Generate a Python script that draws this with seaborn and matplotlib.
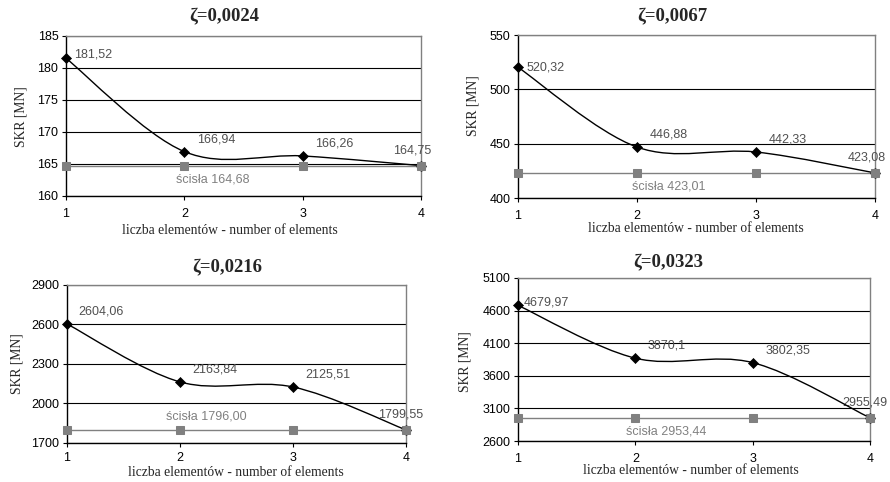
import numpy as np
import pandas as pd
import matplotlib
matplotlib.use("Agg")
import matplotlib.pyplot as plt
from matplotlib.path import Path
from matplotlib.patches import PathPatch
import seaborn as sns

# ---------------- data ----------------
elements = [1, 2, 3, 4]
titles = ["ζ=0,0024", "ζ=0,0067", "ζ=0,0216", "ζ=0,0323"]
fem_1 = [181.52, 166.94, 166.26, 164.75]
fem_2 = [520.32, 446.88, 442.33, 423.08]
fem_3 = [2604.06, 2163.84, 2125.51, 1799.55]
fem_4 = [4679.97, 3870.1, 3802.35, 2955.49]
fem_labels_1 = ["181,52", "166,94", "166,26", "164,75"]
fem_labels_2 = ["520,32", "446,88", "442,33", "423,08"]
fem_labels_3 = ["2604,06", "2163,84", "2125,51", "1799,55"]
fem_labels_4 = ["4679,97", "3870,1", "3802,35", "2955,49"]
exact = [164.68, 423.01, 1796.00, 2953.44]
exact_labels = ["ścisła 164,68", "ścisła 423,01", "ścisła 1796,00", "ścisła 2953,44"]
y_limits = [(160, 185), (400, 550), (1700, 2900), (2600, 5100)]
y_steps = [5, 50, 300, 500]
x_label = "liczba elementów - number of elements"
y_label = "SKR [MN]"

fems = [fem_1, fem_2, fem_3, fem_4]
fem_labels = [fem_labels_1, fem_labels_2, fem_labels_3, fem_labels_4]

# ---------------- layout / style ----------------
W, H = 890, 482
sns.set_theme(style="white")
plt.rcParams["font.family"] = ["Liberation Sans", "DejaVu Sans"]

fig = plt.figure(figsize=(W / 100, H / 100), dpi=100)

# axes boxes in pixels: left, top, right, bottom
boxes = [(66, 36, 421, 196), (518, 35, 875, 198), (67, 285, 406, 443), (518, 278, 870, 441)]
title_pos = [(224, 17), (672, 17), (227, 268), (668, 263)]
xlab_pos = [(230, 230), (696, 228), (236, 473), (691, 470)]
ylab_pos = [(21, 117), (473, 106), (17, 364), (465, 362)]
x_pads = [5.5, 5.5, 3.5, 5.5]
# label offsets in points for fem points (dx, dy)
fem_offsets = [
    [(6, 3), (9, 9), (9, 9), (-20, 11)],
    [(6, 0), (9, 9), (9, 9), (-20, 11)],
    [(8, 9), (9, 9), (9, 9), (-20, 11)],
    [(4, 2), (9, 9), (9, 9), (-20, 11)],
]
exact_offsets = [(-22, -10), (-20, -10), (-22, 10), (-20, -10)]

gray_text = "#505050"
gray_series = "#808080"
serif = ["Liberation Serif", "DejaVu Serif"]


def smooth_path(xs, ys):
    # Excel-style smoothed line (Catmull-Rom Bezier) through the data points
    xs = np.asarray(xs, float)
    ys = np.asarray(ys, float)
    n = len(xs)
    verts = [(xs[0], ys[0])]
    codes = [Path.MOVETO]
    for i in range(n - 1):
        p0 = (xs[i - 1], ys[i - 1]) if i > 0 else (xs[i], ys[i])
        p1 = (xs[i], ys[i])
        p2 = (xs[i + 1], ys[i + 1])
        p3 = (xs[i + 2], ys[i + 2]) if i + 2 < n else (xs[i + 1], ys[i + 1])
        c1 = (p1[0] + (p2[0] - p0[0]) / 6, p1[1] + (p2[1] - p0[1]) / 6)
        c2 = (p2[0] - (p3[0] - p1[0]) / 6, p2[1] - (p3[1] - p1[1]) / 6)
        verts += [c1, c2, p2]
        codes += [Path.CURVE4] * 3
    return Path(verts, codes)


for k in range(4):
    l, t, r, b = boxes[k]
    ax = fig.add_axes([l / W, 1 - b / H, (r - l) / W, (b - t) / H])
    ax.set_facecolor("white")
    lo, hi = y_limits[k]
    ax.set_ylim(lo, hi)
    ax.set_xlim(1, 4)
    ax.set_yticks(np.arange(lo, hi + 1e-9, y_steps[k]))
    ax.set_xticks(elements)
    ax.yaxis.grid(True, color="black", linewidth=0.8)
    ax.xaxis.grid(False)
    ax.set_axisbelow(True)
    for s in ["left", "bottom"]:
        ax.spines[s].set_color("black")
        ax.spines[s].set_linewidth(1.0)
    for s in ["top", "right"]:
        ax.spines[s].set_color(gray_series)
        ax.spines[s].set_linewidth(1.0)
    ax.tick_params(axis="both", which="major", direction="out", length=3, width=0.8,
                   color="black", labelsize=9, labelcolor="black", left=True, bottom=True)
    ax.tick_params(axis="x", pad=x_pads[k])
    ax.tick_params(axis="y", pad=2.5)

    df_ex = pd.DataFrame({"n": elements, "v": [exact[k]] * len(elements)})
    sns.lineplot(data=df_ex, x="n", y="v", ax=ax, color=gray_series, linewidth=1.0,
                 marker="s", markersize=6, markeredgecolor=gray_series, clip_on=False, zorder=3)

    fem = fems[k]
    ax.add_patch(PathPatch(smooth_path(elements, fem), facecolor="none",
                           edgecolor="black", linewidth=1.0, zorder=4))
    df_fem = pd.DataFrame({"n": elements, "v": fem})
    sns.scatterplot(data=df_fem, x="n", y="v", ax=ax, color="black", marker="D", s=26,
                    edgecolor="black", linewidth=0.5, clip_on=False, zorder=5)
    ax.plot([elements[-1]], [fem[-1]], marker="o", color=gray_series, markersize=6,
            clip_on=False, zorder=6)

    for i, lab in enumerate(fem_labels[k]):
        dx, dy = fem_offsets[k][i]
        ax.annotate(lab, (elements[i], fem[i]), xytext=(dx, dy), textcoords="offset points",
                    ha="left", va="center", fontsize=9, color=gray_text, annotation_clip=False)
    ex_dx, ex_dy = exact_offsets[k]
    ax.annotate(exact_labels[k], (2.5, exact[k]), xytext=(ex_dx, ex_dy), textcoords="offset points",
                ha="center", va="center", fontsize=9, color="#808080", annotation_clip=False)

    ax.set_xlabel("")
    ax.set_ylabel("")

    tx, ty = title_pos[k]
    fig.text(tx / W, 1 - ty / H, titles[k], ha="center", va="center", fontsize=13.5,
             fontweight="bold", family=serif)
    xx, xy = xlab_pos[k]
    fig.text(xx / W, 1 - xy / H, x_label, ha="center", va="center", fontsize=9.8, family=serif)
    yx, yy = ylab_pos[k]
    fig.text(yx / W, 1 - yy / H, y_label, ha="center", va="center", fontsize=9.8, rotation=90,
             family=serif)

fig.savefig("out.png", dpi=100, facecolor="white")
